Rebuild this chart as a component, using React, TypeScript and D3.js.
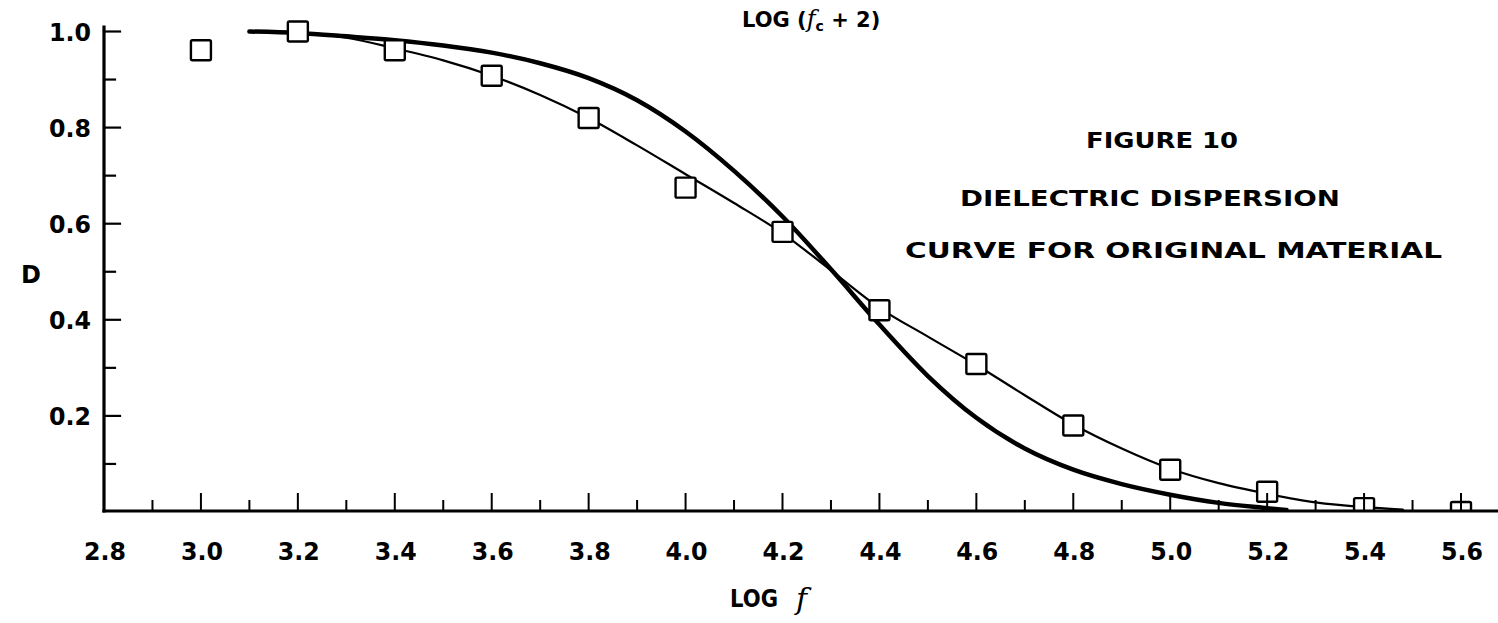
import React from "react";
import * as d3 from "d3";

// ---------- data ----------
const xTickValues = [2.9, 3.0, 3.1, 3.2, 3.3, 3.4, 3.5, 3.6, 3.7, 3.8, 3.9, 4.0, 4.1, 4.2, 4.3, 4.4, 4.5, 4.6, 4.7, 4.8, 4.9, 5.0, 5.1, 5.2, 5.3, 5.4, 5.5, 5.6];
const xTickLabels = ["2.8", "3.0", "3.2", "3.4", "3.6", "3.8", "4.0", "4.2", "4.4", "4.6", "4.8", "5.0", "5.2", "5.4", "5.6"];
const yTickValues = [0.1, 0.2, 0.3, 0.4, 0.5, 0.6, 0.7, 0.8, 0.9, 1.0];
const yTickLabels = ["0.2", "0.4", "0.6", "0.8", "1.0"];

// measured points (open squares)
const pointLogF = [3.0, 3.2, 3.4, 3.6, 3.8, 4.0, 4.2, 4.4, 4.6, 4.8, 5.0, 5.2, 5.4, 5.6];
const pointD = [0.961, 1.0, 0.961, 0.908, 0.82, 0.675, 0.583, 0.42, 0.308, 0.18, 0.088, 0.042, 0.008, 0.0];

// thin fitted curve through the points
const fitLogF = [3.1, 3.2, 3.3, 3.4, 3.5, 3.6, 3.7, 3.8, 3.9, 4.0, 4.1, 4.2, 4.3, 4.4, 4.5, 4.6, 4.7, 4.8, 4.9, 5.0, 5.1, 5.2, 5.3, 5.4, 5.48];
const fitD = [1.0, 0.998, 0.987, 0.965, 0.94, 0.908, 0.868, 0.82, 0.763, 0.703, 0.643, 0.58, 0.503, 0.425, 0.365, 0.306, 0.243, 0.182, 0.132, 0.09, 0.06, 0.038, 0.02, 0.01, 0.005];

// thick theoretical curve LOG (fc+2)
const theoryLogF = [3.1, 3.2, 3.3, 3.4, 3.5, 3.6, 3.7, 3.8, 3.9, 4.0, 4.1, 4.2, 4.3, 4.4, 4.5, 4.6, 4.7, 4.8, 4.9, 5.0, 5.1, 5.2, 5.24];
const theoryD = [1.0, 0.997, 0.99, 0.982, 0.971, 0.956, 0.934, 0.903, 0.857, 0.792, 0.71, 0.615, 0.505, 0.39, 0.283, 0.196, 0.132, 0.088, 0.058, 0.036, 0.019, 0.008, 0.004];

const titleLines = ["FIGURE  10", "DIELECTRIC  DISPERSION", "CURVE  FOR  ORIGINAL  MATERIAL"];

const W = 1498;
const H = 623;
const FONT = "'DejaVu Sans', sans-serif";

export default function App() {
  const x = d3.scaleLinear().domain([2.8, 5.6]).range([104, 1461]);
  const y = d3.scaleLinear().domain([0, 1]).range([512, 31.5]);
  const axisY = 511;
  const axisX = 104;

  const line = d3
    .line<[number, number]>()
    .x((d) => x(d[0]))
    .y((d) => y(d[1]))
    .curve(d3.curveMonotoneX);

  const fitPts: [number, number][] = fitLogF.map((v, i) => [v, fitD[i]]);
  const theoryPts: [number, number][] = theoryLogF.map((v, i) => [v, theoryD[i]]);
  const isMajor = (v: number) => Math.round(v * 10) % 2 === 0;
  const sq = 20;

  return (
    <svg
      width={W}
      height={H}
      style={{ position: "absolute", left: 0, top: 0, background: "#fff" }}
      fontFamily={FONT}
    >
      <defs>
        <clipPath id="plotClip">
          <rect x={axisX} y={0} width={W - axisX} height={axisY} />
        </clipPath>
      </defs>
      <rect x={0} y={0} width={W} height={H} fill="#fff" />

      {/* curves */}
      <g clipPath="url(#plotClip)" fill="none" stroke="#000" strokeLinecap="round" strokeLinejoin="round">
        <path d={line(theoryPts) || ""} strokeWidth={4.5} />
        <path d={line(fitPts) || ""} strokeWidth={2.2} />
        {pointLogF.map((v, i) => (
          <rect
            key={i}
            x={x(v) - sq / 2}
            y={y(pointD[i]) - sq / 2}
            width={sq}
            height={sq}
            fill="#fff"
            stroke="#000"
            strokeWidth={2.4}
            rx={1.5}
          />
        ))}
      </g>

      {/* axes */}
      <g stroke="#000" strokeLinecap="square">
        <line x1={axisX} y1={27} x2={axisX} y2={axisY} strokeWidth={3.2} />
        <line x1={axisX} y1={axisY} x2={W} y2={axisY} strokeWidth={3.2} />
        {xTickValues.map((v) => (
          <line key={"xt" + v} x1={x(v)} x2={x(v)} y1={axisY} y2={axisY - (isMajor(v) ? 17 : 10)} strokeWidth={2} />
        ))}
        {yTickValues.map((v) => (
          <line key={"yt" + v} x1={axisX} x2={axisX + (isMajor(v) ? 16 : 11)} y1={y(v)} y2={y(v)} strokeWidth={2.2} />
        ))}
      </g>

      {/* tick labels */}
      <g fontWeight="bold" fontSize={25} fill="#000">
        {xTickLabels.map((t) => (
          <text key={"xl" + t} x={x(+t) + 1} y={560} textAnchor="middle" textLength={42} lengthAdjust="spacingAndGlyphs">
            {t}
          </text>
        ))}
        {yTickLabels.map((t) => (
          <text key={"yl" + t} x={91} y={y(+t) + 9} textAnchor="end" textLength={42} lengthAdjust="spacingAndGlyphs">
            {t}
          </text>
        ))}
      </g>

      {/* axis titles */}
      <g fontWeight="bold" fill="#000">
        <text x={21} y={283} fontSize={24}>D</text>
        <text x={730} y={607} fontSize={24} textLength={48} lengthAdjust="spacingAndGlyphs">LOG</text>
        <text x={796} y={609} fontSize={30} fontStyle="italic" fontWeight="normal" fontFamily="'DejaVu Serif', serif">f</text>
        <text x={742} y={27} fontSize={21}>
          LOG (
          <tspan fontStyle="italic" fontFamily="'DejaVu Serif', serif" fontWeight="normal" fontSize={24}>f</tspan>
          <tspan fontSize={14} dy={4}>c</tspan>
          <tspan dy={-4}> + 2)</tspan>
        </text>
      </g>

      {/* figure caption */}
      <g fontWeight="bold" fill="#000" fontSize={21}>
        <text x={1086} y={148} textLength={152} lengthAdjust="spacingAndGlyphs">{titleLines[0]}</text>
        <text x={960} y={206} textLength={380} lengthAdjust="spacingAndGlyphs">{titleLines[1]}</text>
        <text x={905} y={258} textLength={537} lengthAdjust="spacingAndGlyphs">{titleLines[2]}</text>
      </g>
    </svg>
  );
}
